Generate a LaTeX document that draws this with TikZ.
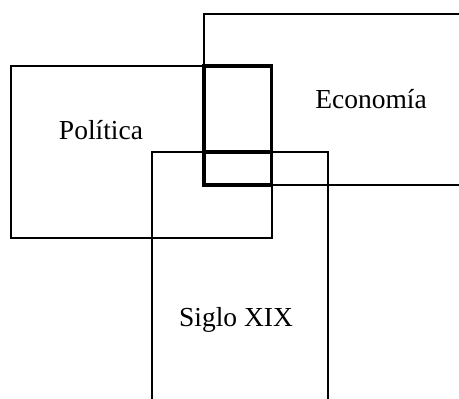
\documentclass[tikz,border=0pt]{standalone}
\usepackage{fontspec}
\setmainfont{Liberation Serif}
\begin{document}
\begin{tikzpicture}[x=1pt,y=-1pt,
  box/.style={draw=black,line width=2pt,inner sep=0pt,outer sep=0pt},
  overlap/.style={draw=black,line width=3.2pt},
  lbl/.style={font=\fontsize{27.5}{32}\selectfont,inner sep=0pt,anchor=base}]
\useasboundingbox (0,0) rectangle (459,399);
\clip (0,0) rectangle (459,399);
\node[box,minimum width=261pt,minimum height=172pt] (pol) at (141,152) {};
\node[box,minimum width=270pt,minimum height=171pt] (eco) at (339,99.5) {};
\node[box,minimum width=176pt,minimum height=260pt] (sig) at (240,282) {};
\draw[overlap] (eco.north west |- pol.north) rectangle (pol.east |- eco.south);
\draw[overlap] (eco.west |- sig.north) -- (pol.east |- sig.north);
\node[lbl] (tpol) at (101,139) {Política};
\node[lbl] (teco) at (371,108) {Economía};
\node[lbl] (tsig) at (236,326) {Siglo XIX};
\end{tikzpicture}
\end{document}
